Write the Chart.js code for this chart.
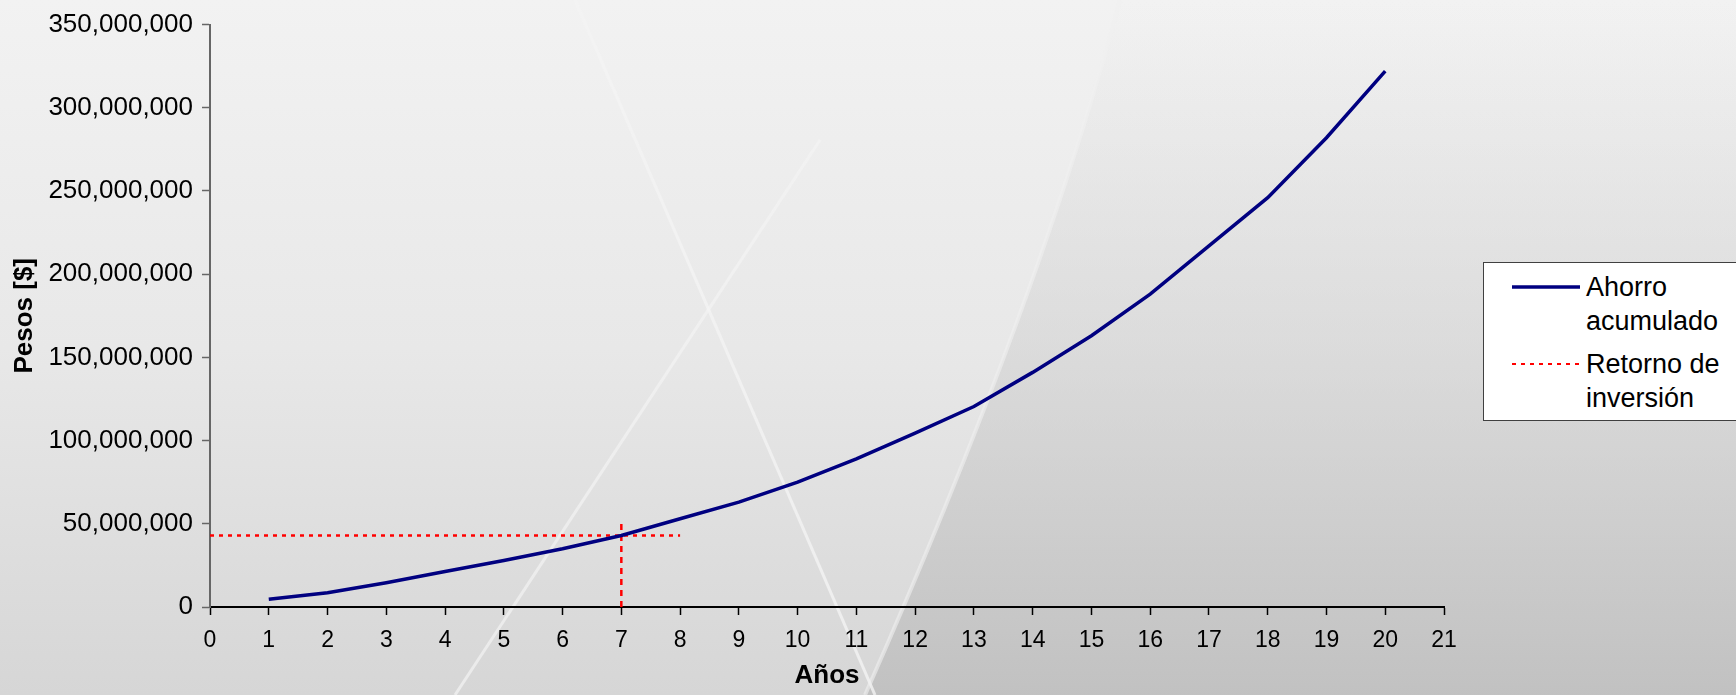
<!DOCTYPE html>
<html>
<head>
<meta charset="utf-8">
<script src="https://cdn.jsdelivr.net/npm/chart.js@4"></script>
<style>
  html, body { margin: 0; padding: 0; }
  body {
    width: 1736px; height: 695px; position: relative; overflow: hidden;
    background: linear-gradient(180deg, #f2f2f2 0%, #e8e8e8 50%, #d6d6d6 100%);
    font-family: "Liberation Sans", Arial, sans-serif;
  }
  #bg { position: absolute; left: 0; top: 0; }
  #wrap { position: absolute; left: 0; top: 0; width: 1736px; height: 695px; }
  #legend {
    position: absolute; left: 1483px; top: 262px; width: 253px; height: 157px;
    background: #fff; border: 1px solid #404040; border-right: none;
    font-size: 27px; color: #000; line-height: 34px;
  }
  .item { position: absolute; left: 0; width: 250px; }
  .item svg { position: absolute; left: 26px; top: 0; }
  .item span { position: absolute; left: 102px; top: 0; white-space: nowrap; }
</style>
</head>
<body>
<!-- slide background decoration -->
<svg id="bg" width="1736" height="695">
  <defs>
    <linearGradient id="dark" x1="0" y1="0" x2="0" y2="1">
      <stop offset="0" stop-color="#d8d8d8" stop-opacity="0"/>
      <stop offset="0.45" stop-color="#d0d0d0" stop-opacity="0.45"/>
      <stop offset="1" stop-color="#bfbfbf" stop-opacity="0.9"/>
    </linearGradient>
  </defs>
  <path d="M1120,0 Q1040,300 865,695 L1736,695 L1736,0 Z" fill="url(#dark)"/>
  <line x1="575" y1="0" x2="875" y2="695" stroke="#f4f4f4" stroke-width="3" opacity="0.8"/>
  <line x1="820" y1="140" x2="455" y2="695" stroke="#f4f4f4" stroke-width="3" opacity="0.7"/>
  <path d="M1120,0 Q1040,300 865,695" stroke="#f0f0f0" stroke-width="4" fill="none" opacity="0.6"/>
</svg>
<div id="wrap"><canvas id="chart" width="1736" height="695"></canvas></div>
<div id="legend">
  <div class="item" style="top:7px">
    <svg width="72" height="34"><line x1="2" y1="17" x2="70" y2="17" stroke="#000080" stroke-width="3.5"/></svg>
    <span>Ahorro<br>acumulado</span>
  </div>
  <div class="item" style="top:84px">
    <svg width="72" height="34"><line x1="2" y1="17" x2="70" y2="17" stroke="#ff0000" stroke-width="2" stroke-dasharray="4,5"/></svg>
    <span>Retorno de<br>inversión</span>
  </div>
</div>
<script>
// Years and accumulated savings (pesos)
const years = [1, 2, 3, 4, 5, 6, 7, 8, 9, 10, 11, 12, 13, 14, 15, 16, 17, 18, 19, 20];
const ahorro = [4700000, 8600000, 14600000, 21300000, 28000000, 35000000, 43000000, 53000000, 63000000, 75000000,
  89000000, 104500000, 120500000, 141000000, 163000000, 188000000, 217000000, 246000000, 282000000, 322000000];

// Return of investment guide lines
const roiYear = 7;
const roiValue = 43000000;
const roiHorizX = [0, 8];
const roiVertY = [0, 52000000];

const yMax = 350000000;
const yStep = 50000000;

const fontFam = '"Liberation Sans", Arial, sans-serif';

const ctx = document.getElementById('chart').getContext('2d');
new Chart(ctx, {
  type: 'scatter',
  data: {
    datasets: [
      {
        label: 'Ahorro acumulado',
        data: years.map((y, i) => ({ x: y, y: ahorro[i] })),
        showLine: true,
        borderColor: '#000080',
        borderWidth: 3.5,
        pointRadius: 0,
        tension: 0
      },
      {
        label: 'Retorno de inversión',
        data: roiHorizX.map(x => ({ x: x, y: roiValue })),
        showLine: true,
        borderColor: '#ff0000',
        borderWidth: 2.5,
        borderDash: [4, 5],
        pointRadius: 0
      },
      {
        label: 'Retorno de inversión (v)',
        data: roiVertY.map(v => ({ x: roiYear, y: v })),
        showLine: true,
        borderColor: '#ff0000',
        borderWidth: 2.5,
        borderDash: [6, 5],
        pointRadius: 0
      }
    ]
  },
  options: {
    responsive: false,
    animation: false,
    layout: { padding: { top: 24, right: 292, left: 0, bottom: 0 } },
    plugins: { legend: { display: false }, tooltip: { enabled: false } },
    scales: {
      x: {
        type: 'linear', min: 0, max: 21,
        afterFit: s => { s.height = 88; },
        ticks: { stepSize: 1, color: '#000', font: { family: fontFam, size: 23 }, padding: 12 },
        grid: { drawOnChartArea: false, drawTicks: true, tickLength: 8, color: '#000', tickWidth: 1.5 },
        border: { display: true, color: '#000', width: 2 },
        title: { display: true, text: 'Años', color: '#000', font: { family: fontFam, size: 26, weight: 'bold' }, padding: { top: 0 } }
      },
      y: {
        min: 0, max: yMax,
        afterFit: s => { s.width = 210; },
        ticks: {
          stepSize: yStep, color: '#000', font: { family: fontFam, size: 26 }, padding: 9,
          callback: v => v.toLocaleString('en-US')
        },
        grid: { drawOnChartArea: false, drawTicks: true, tickLength: 8, color: '#666', tickWidth: 1.5 },
        border: { display: true, color: '#666', width: 2 },
        title: { display: true, text: 'Pesos [$]', color: '#000', font: { family: fontFam, size: 26, weight: 'bold' }, padding: { top: 9, bottom: 0 } }
      }
    }
  }
});
</script>
</body>
</html>
